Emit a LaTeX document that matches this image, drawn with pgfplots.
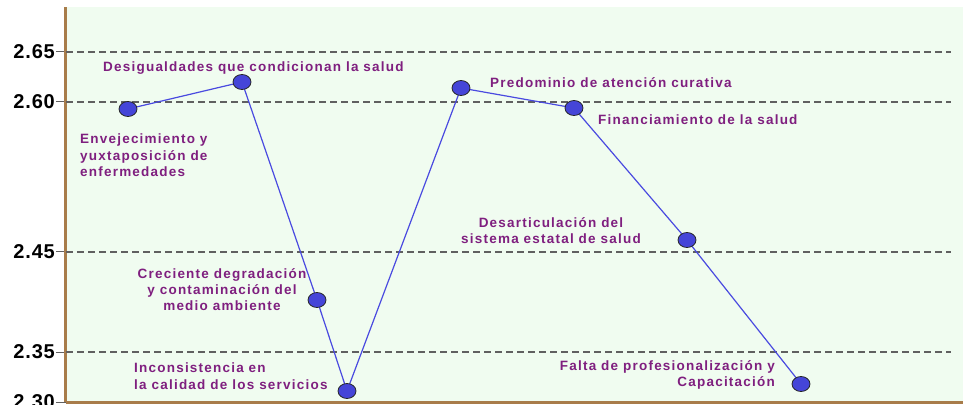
\documentclass[border=0pt]{standalone}
\usepackage{pgfplots}
\pgfplotsset{compat=1.18}
\usepackage{fontspec}
\setmainfont{Liberation Sans}

\definecolor{bgGreen}{HTML}{F0FCF0}
\definecolor{axBrown}{HTML}{A87C4A}
\definecolor{lblPurple}{HTML}{7F1F7F}
\definecolor{lineBlue}{HTML}{4A4AE0}
\definecolor{dotBlue}{HTML}{4545D8}
\definecolor{gridGray}{HTML}{606060}

\tikzset{lbl/.style={font=\fontsize{13.5}{16.3}\selectfont\bfseries\addfontfeatures{LetterSpace=9}, text=lblPurple, inner sep=0pt}}

\begin{document}
\begin{tikzpicture}
\begin{axis}[
  at={(0,0)}, anchor=south west,
  scale only axis, width=897pt, height=395pt,
  xmin=66, xmax=963, ymin=2.30, ymax=2.695,
  clip=false,
  axis background/.style={fill=bgGreen},
  axis x line*=bottom, axis y line*=left,
  axis line style={-, draw=axBrown, line width=3pt},
  xtick=\empty,
  ytick={2.30,2.35,2.45,2.60,2.65},
  tick align=outside, major tick length=10pt,
  ytick style={draw=gridGray, line width=1pt},
  yticklabel style={font=\fontsize{20}{20}\selectfont\bfseries\addfontfeatures{LetterSpace=4}, inner sep=1pt},
  /pgf/number format/.cd, fixed, fixed zerofill, precision=2, assume math mode=true,
]
% dashed reference lines
\foreach \yy in {2.35,2.45,2.60,2.65}{
  \edef\tmp{\noexpand\draw[gridGray, line width=1.1pt, dash pattern=on 7pt off 4pt] (axis cs:66,\yy) -- (axis cs:951,\yy);}
  \tmp
}
\addplot[lineBlue, line width=1.2pt, mark=*,
  mark options={solid, fill=dotBlue, draw=black!85, line width=0.8pt, xscale=1.2}, mark size=7.5pt]
  coordinates {(128,2.593) (242,2.620) (317,2.402) (347,2.311) (461,2.614) (574,2.594) (687,2.462) (801,2.318)};

\node[lbl, anchor=west] at (axis cs:103,2.634) {Desigualdades que condicionan la salud};
\node[lbl, anchor=north west, align=left] at (axis cs:80,2.568) {Envejecimiento y\\yuxtaposición de\\enfermedades};
\node[lbl, anchor=north, align=center] at (axis cs:222,2.434) {Creciente degradación\\y contaminación del\\medio ambiente};
\node[lbl, anchor=north west, align=left] at (axis cs:134,2.339) {Inconsistencia en\\la calidad de los servicios};
\node[lbl, anchor=west] at (axis cs:490,2.619) {Predominio de atención curativa};
\node[lbl, anchor=west] at (axis cs:598,2.582) {Financiamiento de la salud};
\node[lbl, anchor=north, align=center] at (axis cs:551,2.485) {Desarticulación del\\sistema estatal de salud};
\node[lbl, anchor=north east, align=right] at (axis cs:775,2.342) {Falta de profesionalización y\\Capacitación};
\end{axis}
\pgfresetboundingbox
\path[use as bounding box] (-66pt,-2pt) rectangle (897pt,402pt);
\end{tikzpicture}
\end{document}
